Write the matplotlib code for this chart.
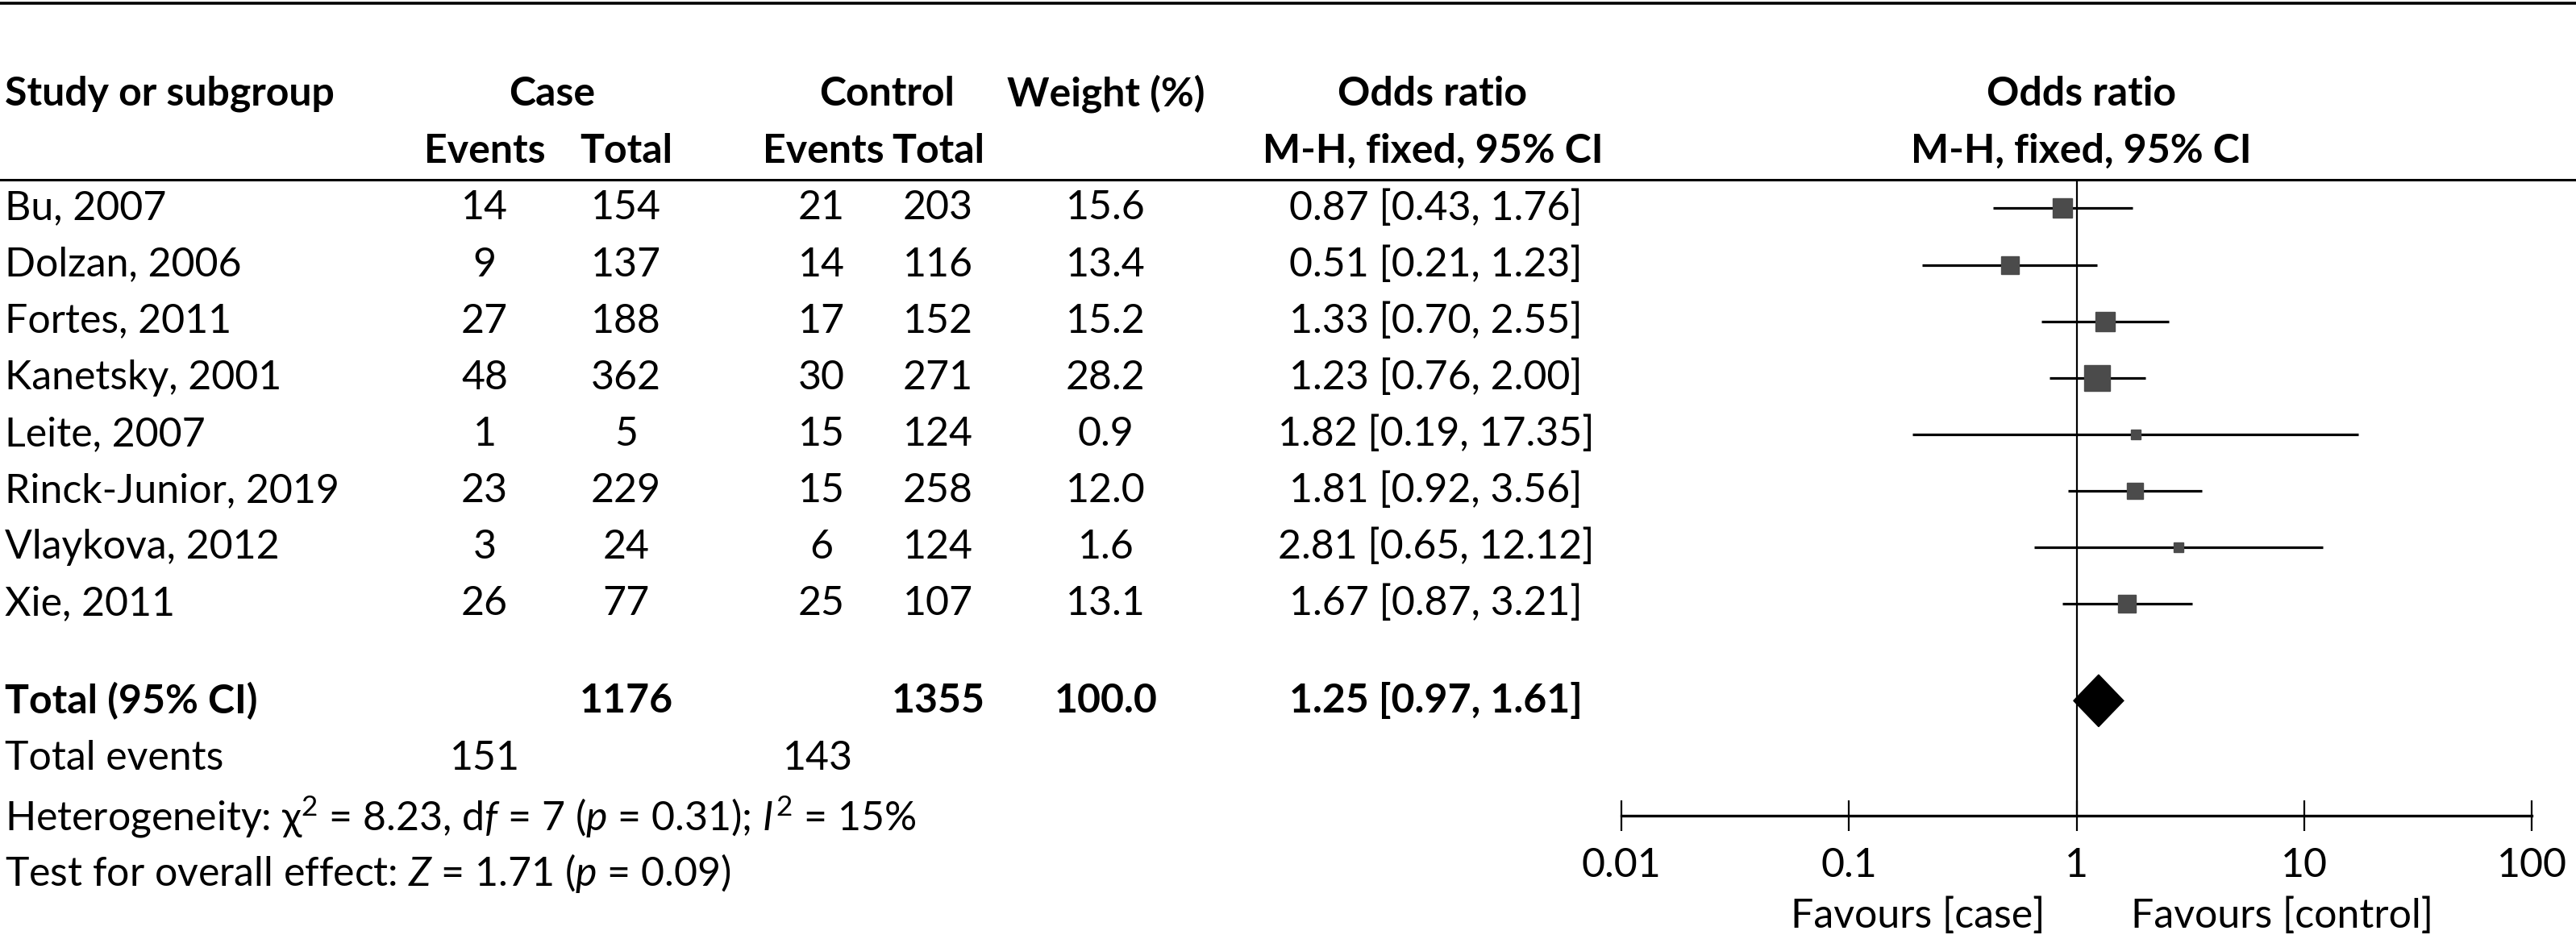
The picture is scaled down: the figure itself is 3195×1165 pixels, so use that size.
import numpy as np
import matplotlib
matplotlib.use("Agg")
import matplotlib.pyplot as plt
from matplotlib.lines import Line2D
from matplotlib.patches import Polygon
from matplotlib.transforms import blended_transform_factory

plt.rcParams["font.family"] = ["Lato", "DejaVu Sans"]
plt.rcParams["mathtext.fontset"] = "custom"
plt.rcParams["mathtext.rm"] = "Lato"
plt.rcParams["mathtext.it"] = "Lato:italic"
plt.rcParams["mathtext.bf"] = "Lato:bold"

# ======================================
# Data
# ======================================

studies = [
    "Bu, 2007",
    "Dolzan, 2006",
    "Fortes, 2011",
    "Kanetsky, 2001",
    "Leite, 2007",
    "Rinck-Junior, 2019",
    "Vlaykova, 2012",
    "Xie, 2011",
]
case_events = [14, 9, 27, 48, 1, 23, 3, 26]
case_total = [154, 137, 188, 362, 5, 229, 24, 77]
ctrl_events = [21, 14, 17, 30, 15, 15, 6, 25]
ctrl_total = [203, 116, 152, 271, 124, 258, 124, 107]
weights = [15.6, 13.4, 15.2, 28.2, 0.9, 12.0, 1.6, 13.1]
odds = [0.87, 0.51, 1.33, 1.23, 1.82, 1.81, 2.81, 1.67]
ci_low = [0.43, 0.21, 0.70, 0.76, 0.19, 0.92, 0.65, 0.87]
ci_high = [1.76, 1.23, 2.55, 2.00, 17.35, 3.56, 12.12, 3.21]

total_case = 1176
total_ctrl = 1355
total_weight = 100.0
total_or = 1.25
total_low = 0.97
total_high = 1.61
events_case = 151
events_ctrl = 143

xticks = [0.01, 0.1, 1, 10, 100]
xtick_labels = ["0.01", "0.1", "1", "10", "100"]

# ======================================
# Figure / Layout
# ======================================

W_REF = 1568.0
fig = plt.figure(figsize=(31.95, 11.65), dpi=100)

ax = fig.add_axes([987 / W_REF, 0.0, (1541 - 987) / W_REF, 1.0])
ax.set_xscale("log")
ax.set_xlim(0.01, 100)
ax.set_ylim(12.94, -3.69)

tr = blended_transform_factory(fig.transFigure, ax.transData)


def fx(x):
    return x / W_REF


FS = 36
y_rows = np.arange(len(studies))
y_total = 8.72
y_events = 9.74
y_het = 10.78
y_test = 11.77
y_axis = 10.76
y_fav = 12.53
y_h1 = -2.03
y_h2 = -1.02

# ======================================
# Header
# ======================================

hdr = dict(transform=tr, fontsize=FS, fontweight="bold", va="center")

fig.text(fx(3), y_h1, "Study or subgroup", ha="left", **hdr)
fig.text(fx(336), y_h1, "Case", ha="center", **hdr)
fig.text(fx(540), y_h1, "Control", ha="center", **hdr)
fig.text(fx(673), y_h1, "Weight (%)", ha="center", **hdr)
fig.text(fx(872), y_h1, "Odds ratio", ha="center", **hdr)
fig.text(fx(1267), y_h1, "Odds ratio", ha="center", **hdr)

fig.text(fx(295), y_h2, "Events", ha="center", **hdr)
fig.text(fx(381), y_h2, "Total", ha="center", **hdr)
fig.text(fx(501), y_h2, "Events", ha="center", **hdr)
fig.text(fx(571), y_h2, "Total", ha="center", **hdr)
fig.text(fx(872), y_h2, "M-H, fixed, 95% CI", ha="center", **hdr)
fig.text(fx(1267), y_h2, "M-H, fixed, 95% CI", ha="center", **hdr)

fig.add_artist(Line2D([0, 1], [-3.63, -3.63], transform=tr,
                      color="black", lw=2.6))
fig.add_artist(Line2D([0, 1], [-0.5, -0.5], transform=tr,
                      color="black", lw=2.2))

# ======================================
# Study rows
# ======================================

row = dict(transform=tr, fontsize=FS, va="center")

for i, name in enumerate(studies):
    y = y_rows[i]
    fig.text(fx(3), y, name, ha="left", **row)
    fig.text(fx(295), y, str(case_events[i]), ha="center", **row)
    fig.text(fx(381), y, str(case_total[i]), ha="center", **row)
    fig.text(fx(500), y, str(ctrl_events[i]), ha="center", **row)
    fig.text(fx(571), y, str(ctrl_total[i]), ha="center", **row)
    fig.text(fx(673), y, f"{weights[i]:.1f}", ha="center", **row)
    fig.text(fx(874), y,
             f"{odds[i]:.2f} [{ci_low[i]:.2f}, {ci_high[i]:.2f}]",
             ha="center", **row)

# Total row
tot = dict(transform=tr, fontsize=FS, va="center", fontweight="bold")
fig.text(fx(3), y_total, "Total (95% CI)", ha="left", **tot)
fig.text(fx(381), y_total, str(total_case), ha="center", **tot)
fig.text(fx(571), y_total, str(total_ctrl), ha="center", **tot)
fig.text(fx(673), y_total, f"{total_weight:.1f}", ha="center", **tot)
fig.text(fx(874), y_total,
         f"{total_or:.2f} [{total_low:.2f}, {total_high:.2f}]",
         ha="center", **tot)

fig.text(fx(3), y_events, "Total events", ha="left", **row)
fig.text(fx(295), y_events, str(events_case), ha="center", **row)
fig.text(fx(498), y_events, str(events_ctrl), ha="center", **row)

fig.text(fx(3), y_het,
         r"Heterogeneity: χ$^2$ = 8.23, d$\mathit{f}$ = 7 ($\mathit{p}$ = 0.31); $\mathit{I}^2$ = 15%",
         ha="left", **row)
fig.text(fx(3), y_test,
         r"Test for overall effect: $\mathit{Z}$ = 1.71 ($\mathit{p}$ = 0.09)",
         ha="left", **row)

# ======================================
# Forest plot
# ======================================

ax.vlines(1, -0.5, y_axis, color="black", lw=1.6, zorder=1)

ax.hlines(y_rows, ci_low, ci_high, color="black", lw=2.3, zorder=2)

msize = np.maximum(8.0, 4.3 * np.sqrt(np.array(weights)))
for i in range(len(studies)):
    ax.plot(odds[i], y_rows[i], marker="s", ms=msize[i],
            color="#4b4b4b", mec="#4b4b4b", ls="none", zorder=3)

diamond = Polygon(
    [[total_low, y_total], [total_or, y_total - 0.46],
     [total_high, y_total], [total_or, y_total + 0.46]],
    closed=True, facecolor="black", edgecolor="black", zorder=3)
ax.add_patch(diamond)

# axis
for s in ["top", "left", "right"]:
    ax.spines[s].set_visible(False)
ax.spines["bottom"].set_position(("data", y_axis))
ax.spines["bottom"].set_linewidth(2.4)
ax.set_yticks([])
ax.set_xticks(xticks)
ax.set_xticklabels(xtick_labels)
ax.xaxis.set_minor_locator(matplotlib.ticker.NullLocator())
ax.tick_params(axis="x", direction="inout", length=28, width=1.6,
               labelsize=FS, pad=14)
ax.patch.set_visible(False)

fig.text(fx(1245), y_fav, "Favours [case]", transform=tr,
         fontsize=FS, ha="right", va="center")
fig.text(fx(1297), y_fav, "Favours [control]", transform=tr,
         fontsize=FS, ha="left", va="center")

fig.savefig("out.png", dpi=100)
